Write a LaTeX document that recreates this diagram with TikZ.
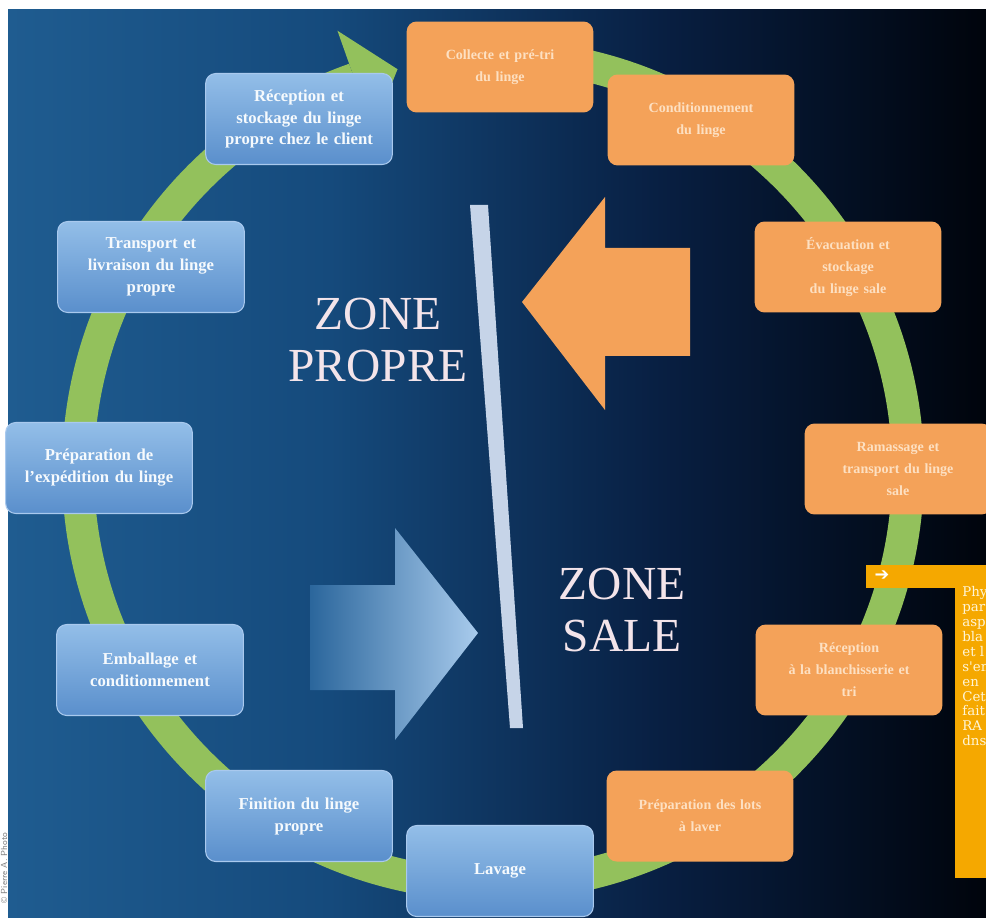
\documentclass[tikz,border=0pt]{standalone}
\usepackage{fontspec}
\setmainfont{Liberation Serif}
\newfontfamily\sidefont{DejaVu Serif}
\newfontfamily\symfont{DejaVu Sans}
\usetikzlibrary{calc}

\definecolor{bgA}{HTML}{1F5C90}
\definecolor{bgB}{HTML}{154A7C}
\definecolor{bgC}{HTML}{081F42}
\definecolor{bgD}{HTML}{00040C}
\definecolor{ringgreen}{HTML}{93C15C}
\definecolor{cleantop}{HTML}{93BEE8}
\definecolor{cleanbot}{HTML}{5A8FCC}
\definecolor{cleanline}{HTML}{A9C9EE}
\definecolor{dirtyfill}{HTML}{F4A259}
\definecolor{dirtytext}{HTML}{FDE0C2}
\definecolor{zonetext}{HTML}{F3E4EA}
\definecolor{barblue}{HTML}{C6D4E8}
\definecolor{sideyellow}{HTML}{F5A800}
\definecolor{sidetext}{HTML}{FFF5D6}

\tikzset{
  cleanbox/.style={rounded corners=0.2cm, top color=cleantop, bottom color=cleanbot,
    draw=cleanline, line width=0.6pt, minimum width=3.72cm, minimum height=1.82cm,
    text width=3.5cm, align=center, text=white!92!cleantop,
    font=\fontsize{9.5}{12.5}\selectfont\bfseries},
  dirtybox/.style={rounded corners=0.2cm, fill=dirtyfill, minimum width=3.72cm,
    minimum height=1.82cm, text width=3.5cm, align=center, text=dirtytext,
    font=\fontsize{8}{12.5}\selectfont\bfseries},
  ringpath/.style={draw=ringgreen, line width=0.64cm},
  zonelabel/.style={align=center, text=zonetext, font=\fontsize{27}{29.5}\selectfont}
}

\begin{document}
\begin{tikzpicture}[x=0.02cm, y=0.02cm]
            \useasboundingbox (0,0) rectangle (986,917);
            % Background
            \fill[white] (0,0) rectangle (986,917);
            \shade[left color=bgA, right color=bgB] (8,0) rectangle (331,907);
            \shade[left color=bgB, right color=bgC] (330,0) rectangle (661,907);
            \shade[left color=bgC, right color=bgD] (660,0) rectangle (986,907);
            \node[rotate=90, text=gray, font=\fontsize{5}{6}\selectfont\sffamily] (credit) at (4,868-819) {\textcopyright\ Pierre A. Photo};

            % Cycle ring
            \coordinate (ctr) at (493,447);
            \draw[ringpath] ($(ctr)+(88:415)$) arc[start angle=88, end angle=-250.5, radius=415];
            \fill[ringgreen] ($(ctr)+(109.5:466)$) -- ($(ctr)+(103.4:412)$) -- ($(ctr)+(109.5:360)$) -- cycle;

            % Dirty side
            \node[dirtybox] (collecte) at (500,850) {Collecte et pré-tri\\du linge};
            \node[dirtybox] (conditionnement) at (701,797) {Conditionnement\\du linge};
            \node[dirtybox] (evacuation) at (848,650) {Évacuation et\\stockage\\du linge sale};
            \node[dirtybox] (ramassage) at (898,448) {Ramassage et\\transport du linge\\sale};
            \node[dirtybox] (receptionBl) at (849,247) {Réception\\à la blanchisserie et\\tri};
            \node[dirtybox] (preparationLots) at (700,101) {Préparation des lots\\à laver};

            % Clean side
            \node[cleanbox] (lavage) at (500,46) {Lavage};
            \node[cleanbox] (finition) at (299,101) {Finition du linge\\propre};
            \node[cleanbox] (emballage) at (150,247) {Emballage et\\conditionnement};
            \node[cleanbox] (expedition) at (99,449) {Préparation de\\l'expédition du linge};
            \node[cleanbox] (transport) at (151,650) {Transport et\\livraison du linge\\propre};
            \node[cleanbox] (receptionCl) at (299,798) {Réception et\\stockage du linge\\propre chez le client};

            % Divider and zones
            \fill[barblue] (470,712) -- (488,712) -- (523,189) -- (510,189) -- cycle;
            \node[zonelabel] (zonePropre) at (378,577) {ZONE\\PROPRE};
            \node[zonelabel] (zoneSale) at (622,307) {ZONE\\SALE};

            % Big arrows
            \fill[dirtyfill] (690,669) -- (605,669) -- (605,720) -- (522,615) -- (605,507) -- (605,561) -- (690,561) -- cycle;
            \shade[left color=bgA!80!cleanbot, right color=cleantop!80!white]
              (310,332) -- (395,332) -- (395,389) -- (478,284) -- (395,177) -- (395,227) -- (310,227) -- cycle;

            % Side note
            \fill[sideyellow] (866,352) rectangle (986,329);
            \fill[sideyellow] (955,352) rectangle (986,39);
            \node[text=white, font=\symfont\bfseries\fontsize{10}{10}\selectfont] (sideArrow) at (882,341) {➔};
            \node[anchor=north west, inner sep=0pt, align=left, text=sidetext,
              font=\sidefont\fontsize{7.6}{8.5}\selectfont] (sideText) at (962,331)
              {Phy\\par\\asp\\bla\\et l\\s'en\\en\\Cet\\fait\\RA\\dns};
        \end{tikzpicture}
\end{document}
